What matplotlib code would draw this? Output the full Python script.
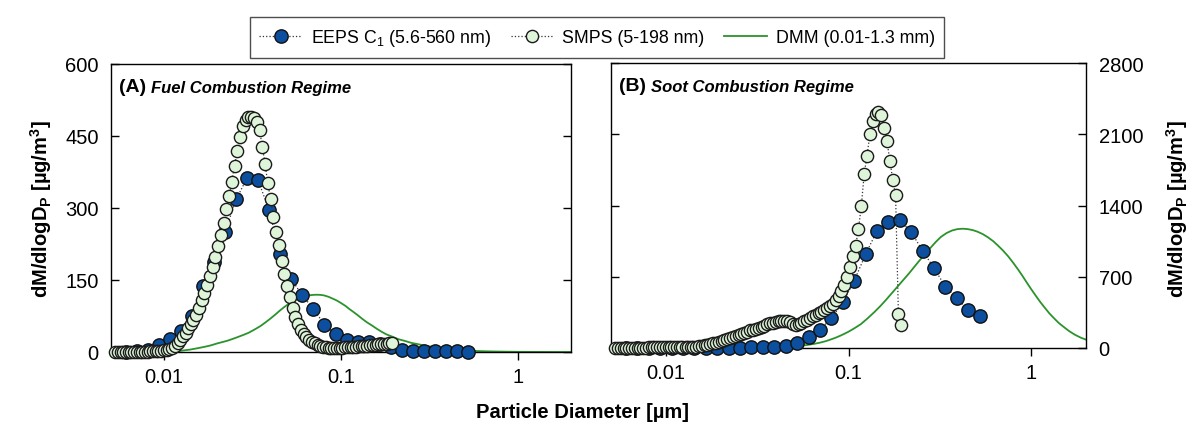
import matplotlib
matplotlib.use("Agg")
import matplotlib.pyplot as plt
from matplotlib.lines import Line2D

plt.rcParams.update({
    'font.family': ['Liberation Sans', 'DejaVu Sans'],
    'mathtext.fontset': 'custom',
    'mathtext.rm': 'Liberation Sans',
    'mathtext.it': 'Liberation Sans:italic',
    'mathtext.bf': 'Liberation Sans:bold',
    'axes.linewidth': 1.0,
})

# ── DATA ────────────────────────────────────────────────────────────────────
# SMPS channel midpoints (um), 64 ch/decade
smps_d = [0.00527, 0.00546, 0.00566, 0.00586, 0.00607, 0.00629, 0.00652, 0.00675,
          0.00700, 0.00725, 0.00750, 0.00777, 0.00806, 0.00835, 0.00865, 0.00896,
          0.00928, 0.00961, 0.00996, 0.0104, 0.0107, 0.0111, 0.0115, 0.0119,
          0.0123, 0.0128, 0.0132, 0.0137, 0.0141, 0.0146, 0.0151, 0.0157,
          0.0163, 0.0168, 0.0175, 0.0181, 0.0188, 0.0195, 0.0202, 0.0209,
          0.0217, 0.0225, 0.0233, 0.0241, 0.0250, 0.0259, 0.0269, 0.0279,
          0.0289, 0.0299, 0.0311, 0.0322, 0.0334, 0.0346, 0.0359, 0.0372,
          0.0385, 0.0400, 0.0414, 0.0429, 0.0445, 0.0461, 0.0478, 0.0496,
          0.0514, 0.0533, 0.0552, 0.0573, 0.0594, 0.0615, 0.0638, 0.0661,
          0.0685, 0.0710, 0.0737, 0.0764, 0.0791, 0.0820, 0.0851, 0.0882,
          0.0914, 0.0947, 0.0982, 0.1018, 0.1055, 0.1094, 0.1134, 0.1176,
          0.1219, 0.1263, 0.1310, 0.1358, 0.1407, 0.1459, 0.1512, 0.1568,
          0.1625, 0.1685, 0.1747, 0.1811, 0.1877, 0.1946]

smps_a = [1, 1, 1, 1, 1, 1, 1, 1,
          1, 1, 1, 1, 1, 2, 2, 2,
          2, 3, 4, 5, 6, 9, 13, 19,
          25, 33, 40, 50, 58, 67, 78, 92,
          108, 122, 140, 158, 177, 197, 220, 243,
          268, 297, 325, 355, 388, 418, 447, 470,
          484, 489, 490, 487, 480, 462, 428, 392,
          352, 318, 282, 250, 222, 190, 162, 137,
          114, 92, 73, 58, 46, 38, 31, 26,
          21, 18, 15, 13, 11, 10, 9, 9,
          9, 9, 9, 9, 10, 10, 10, 11,
          11, 12, 12, 13, 13, 14, 15, 15,
          16, 16, 17, 17, 18, 18]

smps_b = [4, 4, 4, 4, 4, 4, 4, 4,
          4, 4, 4, 4, 5, 5, 5, 5,
          5, 5, 6, 6, 6, 7, 7, 8,
          8, 9, 9, 10, 10, 12, 16, 21,
          26, 32, 38, 45, 52, 60, 68, 76,
          86, 96, 106, 118, 130, 142, 152, 162,
          172, 180, 190, 200, 210, 220, 232, 242,
          250, 258, 264, 268, 270, 266, 252, 236,
          228, 236, 250, 265, 280, 295, 310, 325,
          340, 355, 372, 390, 410, 435, 470, 510,
          560, 620, 700, 800, 905, 1005, 1170, 1400,
          1710, 1890, 2100, 2235, 2300, 2316, 2290, 2160,
          2030, 1840, 1655, 1500, 330, 230]

# EEPS channel midpoints (um)
eeps_d = [0.00604, 0.00698, 0.00806, 0.00931, 0.0108, 0.0124, 0.0143, 0.0165,
          0.0191, 0.0221, 0.0255, 0.0294, 0.0340, 0.0392, 0.0453, 0.0523,
          0.0604, 0.0698, 0.0806, 0.0931, 0.1075, 0.1241, 0.1433, 0.1655,
          0.1911, 0.2207, 0.2548, 0.2943, 0.3398, 0.3924, 0.4532, 0.5233]

eeps_a = [1, 2, 5, 14, 27, 43, 76, 138,
          188, 250, 318, 362, 358, 295, 205, 152,
          118, 90, 57, 37, 24, 20, 20, 17,
          10, 4, 2, 2, 2, 2, 2, 1]

eeps_b = [1, 1, 1, 1, 1, 1, 1, 2,
          2, 3, 3, 5, 7, 13, 23, 49,
          105, 180, 292, 449, 661, 920, 1153, 1241,
          1258, 1137, 956, 783, 602, 488, 376, 311]

# DMM curves (um, dM/dlogDp)
dmm_d_a = [0.010, 0.011, 0.012, 0.013, 0.014, 0.015, 0.016, 0.017, 0.018, 0.019,
           0.020, 0.0215, 0.023, 0.0245, 0.026, 0.028, 0.030, 0.0325, 0.035, 0.0375,
           0.040, 0.0425, 0.045, 0.0475, 0.050, 0.0525, 0.055, 0.0575, 0.060, 0.063,
           0.066, 0.0695, 0.073, 0.0765, 0.080, 0.085, 0.090, 0.095, 0.100, 0.106,
           0.112, 0.118, 0.125, 0.132, 0.140, 0.150, 0.160, 0.170, 0.180, 0.195,
           0.210, 0.230, 0.250, 0.275, 0.300, 0.325, 0.350, 0.385, 0.420, 0.460,
           0.500, 0.570, 0.650, 0.750, 0.850, 1.000, 1.200, 1.500, 2.000]
dmm_a = [0, 1, 2, 3.5, 5, 7, 9, 11, 13, 15.5,
         18, 21, 24, 27.5, 31, 35.5, 40, 47, 54, 62,
         70, 78, 86, 93, 99, 104, 108, 111.5, 114, 116.5,
         118, 119, 119.3, 119, 118, 115, 111, 107, 102, 96,
         89, 83, 76, 69, 62, 55, 48, 42, 37, 32,
         27, 23, 19, 16, 13, 11, 9, 7, 5, 4,
         3, 2.2, 1.5, 1, 0.7, 0.4, 0.2, 0.1, 0]

dmm_d_b = [0.010, 0.015, 0.020, 0.025, 0.030, 0.035, 0.040, 0.045, 0.050, 0.055,
           0.060, 0.065, 0.070, 0.075, 0.080, 0.085, 0.090, 0.095, 0.100, 0.108,
           0.117, 0.127, 0.139, 0.150, 0.160, 0.172, 0.186, 0.200, 0.215, 0.230,
           0.245, 0.260, 0.280, 0.300, 0.320, 0.345, 0.370, 0.395, 0.423, 0.450,
           0.480, 0.510, 0.545, 0.580, 0.620, 0.660, 0.700, 0.750, 0.800, 0.850,
           0.900, 0.950, 1.000, 1.060, 1.120, 1.190, 1.260, 1.340, 1.420, 1.520,
           1.620, 1.740, 1.870, 2.000]
dmm_b = [0, 0.2, 0.5, 1, 1.5, 3, 6, 10, 15, 22,
         31, 41, 53, 67, 84, 101, 120, 140, 160, 195,
         235, 290, 355, 415, 470, 535, 605, 670, 735, 800,
         860, 915, 980, 1040, 1090, 1130, 1155, 1168, 1172, 1168,
         1158, 1142, 1118, 1088, 1050, 1005, 960, 900, 835, 770,
         705, 640, 580, 515, 455, 395, 340, 290, 245, 203,
         165, 130, 102, 82]

yticks_a = [0, 150, 300, 450, 600]
yticks_b = [0, 700, 1400, 2100, 2800]
xticks = [0.01, 0.1, 1]
xticklabels = ['0.01', '0.1', '1']

# ── STYLE ───────────────────────────────────────────────────────────────────
C_EEPS = '#0c4f9e'
C_SMPS = '#def5da'
C_DMM = '#2b932b'
MS_E = 9.6
MS_S = 8.8
FS = 14.5

fig = plt.figure(figsize=(11.94, 4.27), dpi=100)
ax_a = fig.add_axes([111 / 1194, 1 - 353 / 427, 460 / 1194, 288 / 427])
ax_b = fig.add_axes([611 / 1194, 1 - 349 / 427, 475 / 1194, 285 / 427])


def draw_panel(ax, dmm_d, dmm_v, eeps_v, smps_v):
    ax.plot(dmm_d, dmm_v, color=C_DMM, lw=1.3, zorder=2)
    ax.plot(eeps_d, eeps_v, ls=':', color='#333333', lw=0.9,
            marker='o', ms=MS_E, mfc=C_EEPS, mec='#111111', mew=1.0,
            zorder=3, clip_on=False)
    ax.plot(smps_d, smps_v, ls=':', color='#333333', lw=0.9,
            marker='o', ms=MS_S, mfc=C_SMPS, mec='#1a1a1a', mew=1.0,
            zorder=4, clip_on=False)
    ax.set_xscale('log')
    ax.set_xlim(0.005, 2.0)
    ax.set_xticks(xticks)
    ax.set_xticklabels(xticklabels)
    ax.minorticks_off()
    ax.tick_params(axis='x', direction='out', length=6, width=1.0,
                   labelsize=FS, pad=5)
    ax.tick_params(axis='y', direction='in', length=6, width=1.0,
                   labelsize=FS, pad=9, left=True, right=True)


draw_panel(ax_a, dmm_d_a, dmm_a, eeps_a, smps_a)
ax_a.set_ylim(0, 600)
ax_a.set_yticks(yticks_a)
ax_a.tick_params(axis='y', labelleft=True, labelright=False)

draw_panel(ax_b, dmm_d_b, dmm_b, eeps_b, smps_b)
ax_b.set_ylim(0, 2800)
ax_b.set_yticks(yticks_b)
ax_b.tick_params(axis='y', labelleft=False, labelright=True)

# panel titles
for ax, tag, name in [(ax_a, '(A)', 'Fuel Combustion Regime'),
                      (ax_b, '(B)', 'Soot Combustion Regime')]:
    t = ax.text(0.017, 0.905, tag + ' ', transform=ax.transAxes,
                fontsize=14, fontweight='bold', va='baseline', ha='left')
    ax.annotate(name, xy=(1, 0), xycoords=t, fontsize=12,
                fontweight='bold', fontstyle='italic', va='bottom', ha='left')

ylab = r'dM/dlogD$_\mathbf{P}$ [µg/m$^\mathbf{3}$]'
fig.text(0.034, 0.51, ylab, rotation=90, fontsize=14.5, fontweight='bold',
         ha='center', va='center')
fig.text(0.986, 0.51, ylab, rotation=90, fontsize=14.5, fontweight='bold',
         ha='center', va='center')
fig.text(0.488, 0.035, 'Particle Diameter [µm]', fontsize=14.5,
         fontweight='bold', ha='center', va='center')

handles = [
    Line2D([0], [0], ls=':', color='#333333', lw=0.9, marker='o', ms=MS_E,
           mfc=C_EEPS, mec='#111111', label=r'EEPS C$_1$ (5.6-560 nm)'),
    Line2D([0], [0], ls=':', color='#333333', lw=0.9, marker='o', ms=MS_S,
           mfc=C_SMPS, mec='#1a1a1a', label='SMPS (5-198 nm)'),
    Line2D([0], [0], color=C_DMM, lw=1.3, label='DMM (0.01-1.3 mm)'),
]
leg = fig.legend(handles=handles, loc='upper center', ncol=3,
                 bbox_to_anchor=(0.5, 0.978), fontsize=12.8, frameon=True,
                 fancybox=False, edgecolor='#222222', handlelength=2.4,
                 columnspacing=1.1, handletextpad=0.5, borderpad=0.55)
leg.get_frame().set_linewidth(1.0)

fig.savefig('out.png', dpi=100, facecolor='white')
